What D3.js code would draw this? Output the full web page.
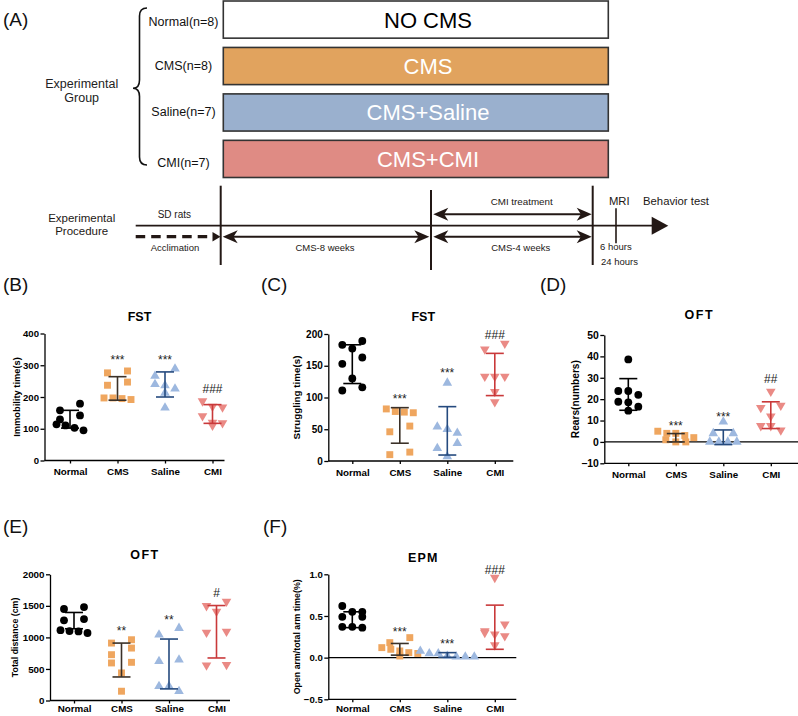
<!DOCTYPE html>
<html><head><meta charset="utf-8">
<script src="https://cdn.jsdelivr.net/npm/d3@7"></script>
<style>body{margin:0;background:#fff} svg{display:block}</style>
</head><body><svg id="fig" width="798" height="716"></svg>
<script>
// ---------------- DATA ----------------
const groups = ["Normal", "CMS", "Saline", "CMI"];
const groupLabels = ["Normal(n=8)", "CMS(n=8)", "Saline(n=7)", "CMI(n=7)"];
const boxLabels = ["NO CMS", "CMS", "CMS+Saline", "CMS+CMI"];

// (B) FST immobility time (s)
const bNormal = [179, 158, 142, 129.5, 114, 110.5, 103, 95];
const bCMS = [282, 276, 247, 237, 197, 197, 195, 192];
const bSaline = [289, 266, 240, 236, 226, 213, 166];
const bCMI = [187, 170, 168, 140, 120, 118, 110];
const bErrLow = [102, 190, 200, 117];
const bErrHigh = [158, 264, 279, 176];
const bTicks = [0, 100, 200, 300, 400];
const bSig = ["", "***", "***", "###"];
const bSigAt = [null, 327, 327, 226];

// (C) FST struggling time (s)
const cNormal = [189, 183, 177, 163, 153, 130, 116, 111];
const cCMS = [82, 78, 77, 76, 55, 46, 14, 10];
const cSaline = [123, 54, 50, 44, 28, 20, 7];
const cCMI = [185, 176, 133, 133, 133, 109, 93];
const cErrLow = [122, 28, 9.4, 103];
const cErrHigh = [183, 84, 85.6, 169.5];
const cTicks = [0, 50, 100, 150, 200];
const cSig = ["", "***", "***", "###"];
const cSigAt = [null, 102, 143, 199.5];

// (D) OFT rears (numbers)
const dNormal = [38.6, 23.8, 23.8, 22, 18.8, 18.5, 16.5, 14.6];
const dCMS = [5, 4, 4, 3, 2, 1, 0, 0];
const dSaline = [9.4, 4, 4, 0, 0, 0, 0];
const dCMI = [23.6, 17, 16, 12, 7.5, 7.5, 5.5];
const dErrLow = [14.8, 0, -1.25, 6.25];
const dErrHigh = [29.6, 3.9, 5.6, 18.75];
const dTicks = [-10, 0, 10, 20, 30, 40, 50];
const dSig = ["", "***", "***", "##"];
const dSigAt = [null, 8.75, 13, 29.4];

// (E) OFT total distance (cm)
const eNormal = [1480, 1450, 1290, 1270, 1115, 1100, 1095, 1070];
const eCMS = [963, 910, 831, 726, 605, 595, 437, 147];
const eSaline = [1147, 1042, 647, 621, 226, 226, 147];
const eCMI = [1568, 1500, 1410, 1095, 1079, 568, 560];
const eErrLow = [1137, 373, 184, 674];
const eErrHigh = [1395, 910, 974, 1505];
const eTicks = [0, 500, 1000, 1500, 2000];
const eSig = ["", "**", "**", "#"];
const eSigAt = [null, 1147, 1316, 1710];

// (F) EPM open arm / total arm time (%)
const fNormal = [0.62, 0.55, 0.55, 0.49, 0.49, 0.37, 0.37, 0.36];
const fCMS = [0.24, 0.18, 0.12, 0.10, 0.08, 0.06, 0.05, 0.02];
const fSaline = [0.08, 0.05, 0.05, 0.02, 0.01, 0.01, 0.01];
const fCMI = [0.96, 0.40, 0.32, 0.30, 0.28, 0.26, 0.15];
const fErrLow = [0.36, 0.03, 0.004, 0.10];
const fErrHigh = [0.55, 0.17, 0.06, 0.63];
const fTicks = [-0.5, 0.0, 0.5, 1.0];
const fSig = ["", "***", "***", "###"];
const fSigAt = [null, 0.34, 0.2, 1.05];

// ---------------- DRAWING ----------------
const FONT = "'Liberation Sans', Arial, Helvetica, sans-serif";
const INK = "#231815";
const svg = d3.select("#fig").style("font-family", FONT);

// panel letters
[["(A)", 3, 26], ["(B)", 3, 291], ["(C)", 261, 291], ["(D)", 540, 291], ["(E)", 3, 533], ["(F)", 263, 533]]
  .forEach(([t, x, y]) => svg.append("text").attr("x", x).attr("y", y)
    .attr("font-size", 19).attr("fill", "#111").text(t));

// ----- Panel A : groups -----
const boxFill = ["#ffffff", "#E1A35E", "#9AB0CE", "#DF8B84"];
const boxTextFill = ["#000", "#fff", "#fff", "#fff"];
const rowScale = d3.scaleBand().domain(boxLabels).range([1, 177.5]).paddingInner(0.2);
const boxX0 = 223.3, boxX1 = 608.3;
boxLabels.forEach((lab, i) => {
  const y0 = rowScale(lab);
  svg.append("rect").attr("x", boxX0).attr("y", y0).attr("width", boxX1 - boxX0)
    .attr("height", rowScale.bandwidth()).attr("fill", boxFill[i])
    .attr("stroke", "#333").attr("stroke-width", 1.6);
  svg.append("text").attr("x", 428).attr("y", y0 + rowScale.bandwidth() / 2 + 8)
    .attr("text-anchor", "middle").attr("font-size", 22).attr("fill", boxTextFill[i]).text(lab);
});
const groupLabelY = [26, 69.5, 116, 166.5];
groupLabels.forEach((lab, i) => {
  svg.append("text").attr("x", 183.5).attr("y", groupLabelY[i]).attr("text-anchor", "middle")
    .attr("font-size", 12.5).attr("fill", "#111").text(lab);
});
svg.append("path")
  .attr("d", "M147,8 Q139.5,8 139.5,16 V80 Q139.5,88.3 133,88.3 Q139.5,88.3 139.5,96.6 V157 Q139.5,165 147,165")
  .attr("fill", "none").attr("stroke", "#111").attr("stroke-width", 1.6);
svg.append("text").attr("x", 81.7).attr("y", 87.5).attr("text-anchor", "middle").attr("font-size", 12.5).attr("fill", "#222").text("Experimental");
svg.append("text").attr("x", 81.7).attr("y", 101.5).attr("text-anchor", "middle").attr("font-size", 12.5).attr("fill", "#222").text("Group");

// ----- Panel A : procedure -----
const proc = svg.append("g");
function stealth(tipX, y, dir, L = 15, H = 6.5) {
  const b = tipX - dir * L, n = tipX - dir * L * 0.72;
  proc.append("path").attr("d", `M${tipX},${y}L${b},${y - H}L${n},${y}L${b},${y + H}Z`).attr("fill", INK);
}
function dbl(x0, x1, y) {
  proc.append("line").attr("x1", x0 + 8).attr("x2", x1 - 8).attr("y1", y).attr("y2", y)
    .attr("stroke", INK).attr("stroke-width", 2);
  stealth(x0, y, -1); stealth(x1, y, 1);
}
proc.append("line").attr("x1", 135.7).attr("x2", 653).attr("y1", 225.7).attr("y2", 225.7).attr("stroke", INK).attr("stroke-width", 1.8);
proc.append("path").attr("d", "M668.3,225.7L651.7,216.7L651.7,234.7Z").attr("fill", INK);
proc.append("line").attr("x1", 135.7).attr("x2", 214).attr("y1", 236.7).attr("y2", 236.7)
  .attr("stroke", INK).attr("stroke-width", 3.2).attr("stroke-dasharray", "9.5,6");
proc.append("path").attr("d", "M220.5,236.7L212.5,232L212.5,241.4Z").attr("fill", INK);
[[220.7, 185.7, 265], [431, 190, 270], [592.7, 185.7, 265]].forEach(([x, a, b]) =>
  proc.append("line").attr("x1", x).attr("x2", x).attr("y1", a).attr("y2", b).attr("stroke", INK).attr("stroke-width", 2));
proc.append("line").attr("x1", 616).attr("x2", 616).attr("y1", 208.3).attr("y2", 243.3).attr("stroke", INK).attr("stroke-width", 1.6);
dbl(222.7, 429.3, 236.7);
dbl(433.3, 591.7, 214.3);
dbl(433.3, 591.7, 236.7);
const procText = [
  ["Experimental", 81.7, 221.5, 11.5, "middle"], ["Procedure", 81.7, 235, 11.5, "middle"],
  ["SD rats", 174.3, 217.8, 10, "middle"], ["Acclimation", 175, 251, 9.5, "middle"],
  ["CMS-8 weeks", 325, 251, 9.5, "middle"], ["CMI treatment", 521.7, 204.5, 9.8, "middle"],
  ["CMS-4 weeks", 520.7, 251, 9.5, "middle"], ["MRI", 619.3, 205, 11.3, "middle"],
  ["Behavior test", 676, 205, 11.3, "middle"], ["6 hours", 600, 250, 9.5, "start"],
  ["24 hours", 601, 265, 9.5, "start"]
];
procText.forEach(([t, x, y, fs, anc]) => proc.append("text").attr("x", x).attr("y", y)
  .attr("font-size", fs).attr("text-anchor", anc).attr("fill", INK).text(t));

// ----- Scatter panels -----
const ptFill = ["#000000", "#EFA65F", "#9DB8DF", "#EA8A85"];
const barCol = ["#000000", "#3B3128", "#254A7E", "#C9393A"];
const symTypes = [d3.symbolCircle, d3.symbolSquare, d3.symbolTriangle, d3.symbolTriangle];
const symSize = [48, 48, 40, 40];
const symRot = [0, 0, 0, 180];

function swarm(vals, y, cx) {
  const pts = vals.map(v => ({ v, py: y(v) })).sort((a, b) => a.py - b.py);
  const rows = [];
  pts.forEach(p => {
    const r = rows[rows.length - 1];
    if (r && Math.abs(p.py - r[0].py) < 7.5) r.push(p); else rows.push([p]);
  });
  rows.forEach(r => {
    const n = r.length, slot = n >= 4 ? 9 : 10;
    r.forEach((p, i) => {
      const off = n === 2 ? (i === 0 ? 1 : -1) : (i - (n - 1) / 2);
      p.px = cx + off * slot;
    });
  });
  return pts;
}

function drawPanel(c) {
  const g = svg.append("g").attr("font-family", FONT);
  const y = d3.scaleLinear().domain(c.domain).range([c.bottom, c.top]);
  const x0 = c.axisX + (c.inset || 24);
  const x = d3.scalePoint().domain(groups).range([x0, x0 + 142.5]);

  if (c.domain[0] < 0) {
    g.append("line").attr("x1", c.axisX).attr("x2", c.axisX + c.width)
      .attr("y1", y(0)).attr("y2", y(0)).attr("stroke", "#000").attr("stroke-width", 1.2);
  }
  const ya = g.append("g").attr("transform", `translate(${c.axisX},0)`)
    .call(d3.axisLeft(y).tickValues(c.ticks).tickSize(4).tickSizeOuter(0).tickPadding(1.5).tickFormat(c.fmt));
  const xa = g.append("g").attr("transform", `translate(0,${c.bottom})`)
    .call(d3.axisBottom(x).tickSize(3).tickSizeOuter(0).tickPadding(c.xpad));
  xa.select(".domain").attr("d", `M${c.axisX},0H${c.axisX + c.width}`);
  [ya, xa].forEach(a => {
    a.selectAll("path,line").attr("stroke", "#000").attr("stroke-width", 1.3);
    a.selectAll("text").attr("font-weight", "bold").attr("fill", "#000").attr("font-family", FONT);
  });
  ya.selectAll("text").attr("font-size", c.tickFs);
  xa.selectAll("text").attr("font-size", 9.8);

  g.append("text").attr("x", c.axisX + 95).attr("y", c.titleY).attr("text-anchor", "middle")
    .attr("font-size", 12.5).attr("font-weight", "bold").attr("letter-spacing", c.ls).text(c.title);
  g.append("text").attr("transform", `translate(${c.axisX - c.labOff},${(c.top + c.bottom) / 2}) rotate(-90)`)
    .attr("text-anchor", "middle").attr("font-size", c.labFs).attr("font-weight", "bold").text(c.ylabel);

  c.series.forEach((vals, i) => {
    const pts = swarm(vals, y, x(groups[i]));
    g.selectAll(null).data(pts).join("path")
      .attr("d", d3.symbol().type(symTypes[i]).size(symSize[i]))
      .attr("transform", d => `translate(${d.px},${d.py}) rotate(${symRot[i]})`)
      .attr("fill", ptFill[i]);
  });
  groups.forEach((grp, i) => {
    const cx = x(grp), y0 = y(c.lo[i]), y1 = y(c.hi[i]);
    const eb = g.append("g").attr("stroke", barCol[i]).attr("stroke-width", 1.6);
    eb.append("line").attr("x1", cx).attr("x2", cx).attr("y1", y0).attr("y2", y1);
    [y0, y1].forEach(yy => eb.append("line").attr("x1", cx - 9).attr("x2", cx + 9).attr("y1", yy).attr("y2", yy));
  });
  c.sig.forEach((s, i) => {
    if (!s) return;
    const off = s[0] === "*" ? 7 : 4.3;
    g.append("text").attr("x", x(groups[i])).attr("y", y(c.sigAt[i]) + off).attr("text-anchor", "middle")
      .attr("font-size", 12).attr("fill", "#222").text(s);
  });
}

const intFmt = d3.format("d");
drawPanel({ axisX: 44.5, inset: 25.5, top: 333.5, bottom: 460.5, width: 180, domain: [0, 400], ticks: bTicks, fmt: intFmt,
  title: "FST", titleY: 320.5, ls: 0, ylabel: "Immobility time(s)", labFs: 9.3, labOff: 24.3, tickFs: 9.6, xpad: 5,
  series: [bNormal, bCMS, bSaline, bCMI], lo: bErrLow, hi: bErrHigh, sig: bSig, sigAt: bSigAt });
drawPanel({ axisX: 328.3, top: 334, bottom: 461, width: 185, domain: [0, 200], ticks: cTicks, fmt: intFmt,
  title: "FST", titleY: 320.5, ls: 0, ylabel: "Struggling time(s)", labFs: 9.8, labOff: 28.4, tickFs: 10, xpad: 5,
  series: [cNormal, cCMS, cSaline, cCMI], lo: cErrLow, hi: cErrHigh, sig: cSig, sigAt: cSigAt });
drawPanel({ axisX: 604.3, top: 335, bottom: 463.3, width: 194, domain: [-10, 50], ticks: dTicks, fmt: intFmt,
  title: "OFT", titleY: 319, ls: 1.5, ylabel: "Rears(numbers)", labFs: 10.2, labOff: 25.4, tickFs: 10.4, xpad: 5,
  series: [dNormal, dCMS, dSaline, dCMI], lo: dErrLow, hi: dErrHigh, sig: dSig, sigAt: dSigAt });
drawPanel({ axisX: 50, top: 574.3, bottom: 700.5, width: 180, domain: [0, 2000], ticks: eTicks, fmt: intFmt,
  title: "OFT", titleY: 558.5, ls: 1.5, ylabel: "Total distance (cm)", labFs: 8.8, labOff: 31.8, tickFs: 9.8, xpad: 2,
  series: [eNormal, eCMS, eSaline, eCMI], lo: eErrLow, hi: eErrHigh, sig: eSig, sigAt: eSigAt });
drawPanel({ axisX: 328.3, top: 574.3, bottom: 699.3, width: 188, domain: [-0.5, 1.0], ticks: fTicks, fmt: d3.format(".1f"),
  title: "EPM", titleY: 562, ls: 1.2, ylabel: "Open arm/total arm time(%)", labFs: 8.8, labOff: 28.4, tickFs: 9.6, xpad: 3,
  series: [fNormal, fCMS, fSaline, fCMI], lo: fErrLow, hi: fErrHigh, sig: fSig, sigAt: fSigAt });
</script>
</body></html>
